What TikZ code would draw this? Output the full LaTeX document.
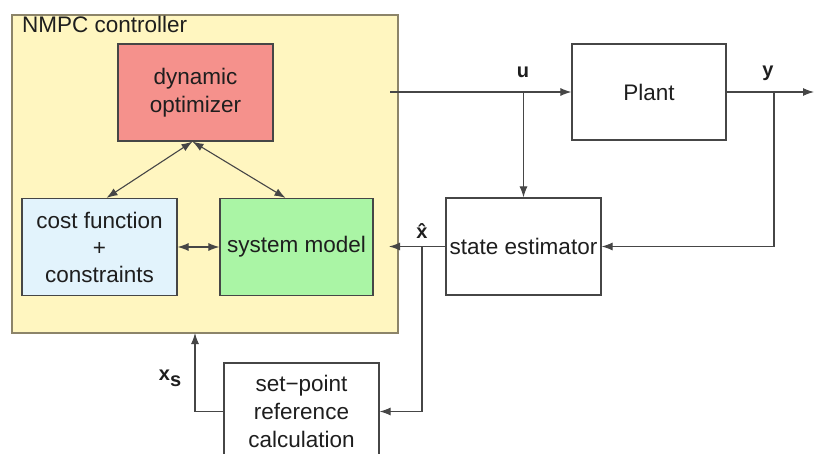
\documentclass[tikz,border=0pt]{standalone}
\usepackage{fontspec}
\setmainfont{Liberation Sans}
\usetikzlibrary{arrows.meta}
\definecolor{yel}{RGB}{255,246,192}
\definecolor{ybord}{RGB}{140,132,105}
\definecolor{optc}{RGB}{245,145,140}
\definecolor{costc}{RGB}{226,243,252}
\definecolor{sysc}{RGB}{170,245,165}
\definecolor{linec}{RGB}{70,70,70}
\definecolor{textc}{RGB}{30,30,30}
\begin{document}
\begin{tikzpicture}[x=1pt,y=1pt,
  blk/.style={draw=linec, line width=1.2pt, minimum width=155pt, minimum height=97pt,
    align=center, font=\fontsize{22.5}{28}\selectfont, text=textc, inner sep=0pt},
  conn/.style={draw=linec, line width=1.1pt, -{Latex[length=11pt,width=8pt]}},
  dbl/.style={draw=linec, line width=1.1pt, {Latex[length=11pt,width=8pt]}-{Latex[length=11pt,width=8pt]}},
  lbl/.style={font=\fontsize{20}{24}\selectfont\bfseries, text=textc, inner sep=0pt}]
\useasboundingbox (0,0) rectangle (814,453);
\clip (0,0) rectangle (814,453);
\fill[white] (0,0) rectangle (814,453);
% NMPC container
\node[draw=ybord, fill=yel, line width=1.5pt, minimum width=386pt, minimum height=318pt, inner sep=0pt] (nmpc) at (205,279) {};
\node[anchor=base west, font=\fontsize{22.5}{26}\selectfont, text=textc, inner sep=0pt] (nmpclbl) at (22,420) {NMPC controller};
% inner blocks
\node[blk, fill=optc] (opt) at (195.5,360.5) {dynamic\\optimizer};
\node[blk, fill=costc, font=\fontsize{22.5}{27}\selectfont] (cost) at (99.5,206) {cost function\\+\\constraints};
\node[blk, fill=sysc, minimum width=153pt] (sys) at (296.5,206) {system model};
% outer blocks
\node[blk, fill=white, minimum width=154pt, minimum height=96pt] (plant) at (649,361) {Plant};
\node[blk, fill=white] (est) at (523.5,206.5) {state estimator};
\node[blk, fill=white] (setp) at (301.5,41.5) {set−point\\reference\\calculation};
% inner connectors
\draw[dbl] ([xshift=-3pt]opt.south) -- ([xshift=7pt]cost.north);
\draw[dbl] ([xshift=-3pt]opt.south) -- ([xshift=-11pt]sys.north);
\draw[dbl] (cost.east) -- (sys.west);
% u
\coordinate (uin) at (390,361);
\coordinate (uj) at (523.5,361);
\draw[conn] (uin) -- (plant.west);
\draw[conn] (uj) -- (est.north);
\node[lbl] (ulbl) at (523,381) {u};
% y
\coordinate (yout) at (814,361);
\coordinate (yj) at (774,361);
\draw[conn] (plant.east) -- (yout);
\draw[conn] (yj) |- (est.east);
\node[lbl] (ylbl) at (768,380) {y};
% x hat
\coordinate (xin) at (389,206.5);
\coordinate (xj) at (422,206.5);
\draw[conn] (est.west) -- (xin);
\draw[conn] (xj) |- (setp.east);
\node[lbl] (xhlbl) at (422,222) {\^{x}};
% x_s
\coordinate (xsin) at (195,120);
\draw[conn] (setp.west) -| (xsin);
\node[lbl] (xslbl) at (170,75) {x\raisebox{-6pt}{s}};
\end{tikzpicture}
\end{document}
